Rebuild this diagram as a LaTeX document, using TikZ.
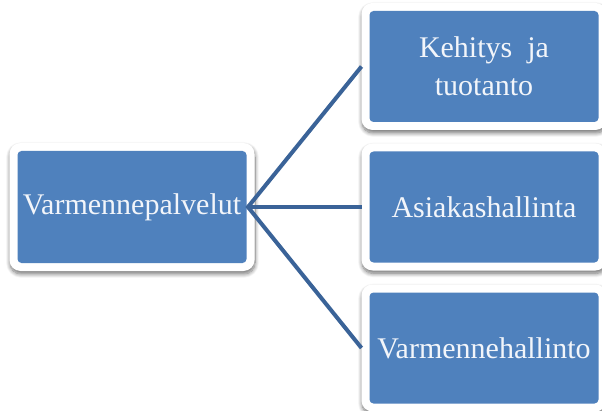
\documentclass[tikz,border=0pt]{standalone}
\usepackage{fontspec}
\setmainfont{Liberation Serif}
\usetikzlibrary{shadows.blur}
\definecolor{boxblue}{RGB}{79,129,189}
\definecolor{linkblue}{RGB}{58,99,152}
\definecolor{boxtext}{RGB}{242,245,250}
\tikzset{
  % white frame carrying a soft shadow, with a blue panel inset by 8pt
  itembox/.style={
    fill=white, draw=none, rounded corners=11pt,
    minimum width=245pt, minimum height=127pt, inner sep=0pt, outer sep=0pt,
    text=boxtext, align=center,
    font=\fontsize{30}{38}\selectfont,
    blur shadow={shadow xshift=0.5pt, shadow yshift=-3pt,
                 shadow blur steps=10, shadow blur radius=4pt, shadow opacity=55},
    path picture={
      \fill[boxblue, rounded corners=4pt]
        ([shift={(8pt,8pt)}]path picture bounding box.south west) rectangle
        ([shift={(-8pt,-8pt)}]path picture bounding box.north east);
    }
  },
  link/.style={draw=linkblue, line width=4pt}
}
\begin{document}
\begin{tikzpicture}[x=1pt,y=1pt]
  \useasboundingbox (0,0) rectangle (602,410);
  % root node and its three children
  \node[itembox, minimum height=128pt] (root) at (132,203) {Varmennepalvelut};
  \node[itembox] (dev) at (484,343.5) {Kehitys\ \ ja\\tuotanto};
  \node[itembox] (cust) at (484,203) {Asiakashallinta};
  \node[itembox] (cert) at (484,62) {Varmennehallinto};
  % connectors fan out from the right edge of the root
  \coordinate (hub) at ([xshift=-6.5pt]root.east);
  \draw[link] (dev.west) -- (hub) -- (cert.west);
  \draw[link] (hub) -- (cust.west);
\end{tikzpicture}
\end{document}
